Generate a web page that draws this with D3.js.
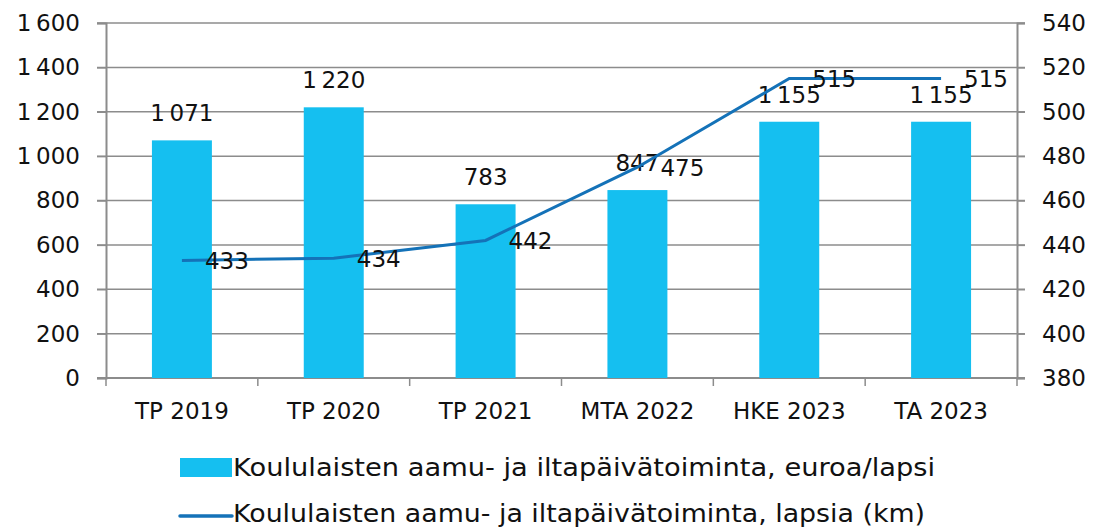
<!DOCTYPE html>
<html>
<head>
<meta charset="utf-8">
<script src="https://cdn.jsdelivr.net/npm/d3@7"></script>
<style>
  body { margin: 0; background: #fff; }
  text { font-family: "DejaVu Sans", sans-serif; fill: #111; }
</style>
</head>
<body>
<script>
// DATA
const categories = ["TP 2019", "TP 2020", "TP 2021", "MTA 2022", "HKE 2023", "TA 2023"];
const euroPerChild = [1071, 1220, 783, 847, 1155, 1155];
const children = [433, 434, 442, 475, 515, 515];
const leftTicks = [0, 200, 400, 600, 800, 1000, 1200, 1400, 1600];
const rightTicks = [380, 400, 420, 440, 460, 480, 500, 520, 540];
const seriesNames = ["Koululaisten aamu- ja iltapäivätoiminta, euroa/lapsi",
                     "Koululaisten aamu- ja iltapäivätoiminta, lapsia (km)"];

// SIZES
const W = 1094, H = 528;
const plot = {left: 106, right: 1017, top: 23, bottom: 378};
const barColor = "#15BFF0", lineColor = "#1472B8", gridColor = "#8c8c8c";
const fs = "23px";

// thousands with thin space
const fmt = v => v >= 1000 ? String(v).replace(/(\d)(?=(\d{3})$)/, "$1\u2009") : String(v);

const svg = d3.select("body").append("svg")
  .attr("width", W).attr("height", H);

// SCALES
const x = d3.scaleBand().domain(categories).range([plot.left, plot.right]).paddingInner(0).paddingOuter(0);
const yL = d3.scaleLinear().domain([0, 1600]).range([plot.bottom, plot.top]);
const yR = d3.scaleLinear().domain([380, 540]).range([plot.bottom, plot.top]);

// GRIDLINES
svg.append("g").selectAll("line").data(leftTicks.slice(1)).join("line")
  .attr("x1", plot.left - 9).attr("x2", plot.right + 8)
  .attr("y1", d => yL(d)).attr("y2", d => yL(d))
  .attr("stroke", gridColor).attr("stroke-width", 1.5);

// LEFT AXIS
const leftAxis = svg.append("g")
  .attr("transform", `translate(${plot.left},0)`)
  .call(d3.axisLeft(yL).tickValues(leftTicks).tickFormat(fmt).tickSize(9).tickPadding(17));
// RIGHT AXIS
const rightAxis = svg.append("g")
  .attr("transform", `translate(${plot.right},0)`)
  .call(d3.axisRight(yR).tickValues(rightTicks).tickSize(8).tickPadding(17));
// BOTTOM AXIS
const bottomAxis = svg.append("g")
  .attr("transform", `translate(0,${plot.bottom})`)
  .call(d3.axisBottom(x).tickSize(0).tickPadding(25));

[leftAxis, rightAxis, bottomAxis].forEach(g => {
  g.select(".domain").attr("stroke", gridColor).attr("stroke-width", 2);
  g.selectAll(".tick line").attr("stroke", gridColor).attr("stroke-width", 1.5);
  g.selectAll("text").style("font-size", fs).style("font-family", "DejaVu Sans").attr("fill", "#111");
});
bottomAxis.select(".domain").attr("d", `M${plot.left - 9},0H${plot.right + 8}`);

// category boundary ticks
svg.append("g").selectAll("line").data(categories.concat(["end"])).join("line")
  .attr("x1", (d, i) => plot.left + i * x.bandwidth())
  .attr("x2", (d, i) => plot.left + i * x.bandwidth())
  .attr("y1", plot.bottom).attr("y2", plot.bottom + 8)
  .attr("stroke", gridColor).attr("stroke-width", 1.5);

// BARS
const barW = x.bandwidth() * 0.395;
svg.append("g").selectAll("rect").data(euroPerChild).join("rect")
  .attr("x", (d, i) => x(categories[i]) + (x.bandwidth() - barW) / 2)
  .attr("y", d => yL(d))
  .attr("width", barW)
  .attr("height", d => yL(0) - yL(d))
  .attr("fill", barColor);

// BAR LABELS
svg.append("g").selectAll("text").data(euroPerChild).join("text")
  .attr("x", (d, i) => x(categories[i]) + x.bandwidth() / 2)
  .attr("y", d => yL(d) - 19)
  .attr("text-anchor", "middle")
  .style("font-size", fs)
  .text(fmt);

// LINE
const cx = i => x(categories[i]) + x.bandwidth() / 2;
svg.append("path")
  .datum(children)
  .attr("fill", "none")
  .attr("stroke", lineColor)
  .attr("stroke-width", 3)
  .attr("d", d3.line().x((d, i) => cx(i)).y(d => yR(d)));

// LINE LABELS
svg.append("g").selectAll("text").data(children).join("text")
  .attr("x", (d, i) => cx(i) + 23)
  .attr("y", d => yR(d) + 9)
  .style("font-size", fs)
  .text(d => d);

// LEGEND
const legend = svg.append("g");
legend.append("rect").attr("x", 180).attr("y", 458).attr("width", 52).attr("height", 19).attr("fill", barColor);
legend.append("line").attr("x1", 180).attr("x2", 232).attr("y1", 516).attr("y2", 516)
  .attr("stroke", lineColor).attr("stroke-width", 3.5).attr("stroke-linecap", "round");
legend.selectAll("text").data(seriesNames).join("text")
  .attr("x", 233)
  .attr("y", (d, i) => 476 + i * 46)
  .attr("textLength", (d, i) => i === 0 ? 702 : 692)
  .attr("lengthAdjust", "spacingAndGlyphs")
  .style("font-size", "24px")
  .text(d => d);
</script>
</body>
</html>
